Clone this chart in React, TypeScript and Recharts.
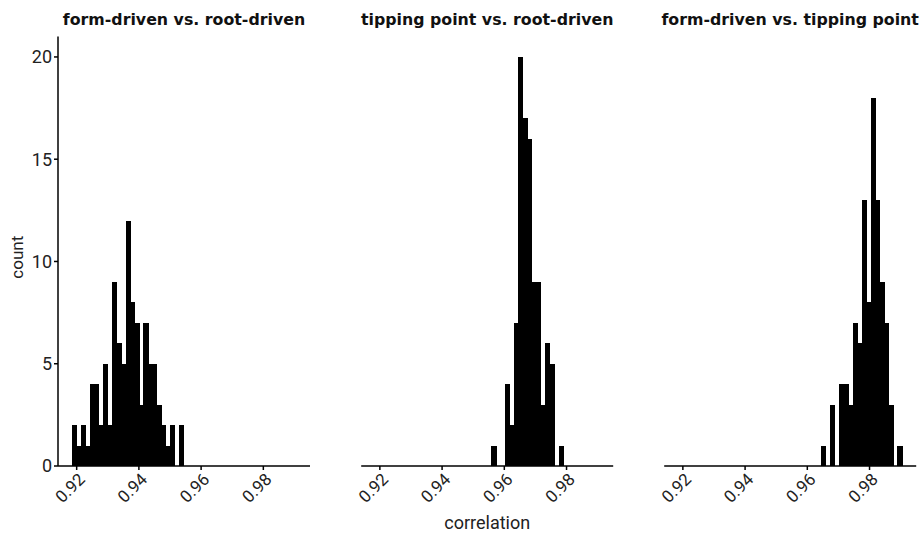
import React from 'react';
import { BarChart, Bar, XAxis, YAxis } from 'recharts';

// histogram bins shared by all three facets
const BIN_START = 0.91859;
const BIN_WIDTH = 0.00144;

// counts per facet, with the index of the first bin they start at
const formRootStart = 0;
const formRootCounts = [2, 1, 2, 1, 4, 4, 2, 5, 2, 9, 6, 5, 12, 8, 7, 3, 7, 5, 5, 3, 2, 1, 2, 0, 2];
const tippingRootStart = 26;
const tippingRootCounts = [1, 0, 0, 4, 2, 7, 20, 17, 16, 9, 9, 3, 6, 5, 0, 1];
const formTippingStart = 32;
const formTippingCounts = [1, 0, 3, 0, 4, 4, 3, 7, 6, 13, 8, 18, 13, 9, 7, 3, 0, 1];

const facetTitles = ['form-driven vs. root-driven', 'tipping point vs. root-driven', 'form-driven vs. tipping point'];
const xTicks = [0.92, 0.94, 0.96, 0.98];
const yTicks = [0, 5, 10, 15, 20];
const X_DOMAIN: [number, number] = [0.914, 0.995];
const Y_DOMAIN: [number, number] = [0, 21];

const FONT = "Roboto, 'DejaVu Sans', sans-serif";
const TITLE_FONT = "'DejaVu Sans', Roboto, sans-serif";
const PLOT_W = 252;
const PX_PER_UNIT = PLOT_W / (X_DOMAIN[1] - X_DOMAIN[0]);
const BAR_PX = BIN_WIDTH * PX_PER_UNIT;

const toBins = (start: number, counts: number[]) =>
  counts.map((count, i) => ({ x: BIN_START + (start + i + 0.5) * BIN_WIDTH, count }));

const XTick = ({ x, y, payload }: any) => (
  <g transform={`translate(${x},${y - 1})`}>
    <text transform="rotate(-45)" textAnchor="end" dy="0.78em" fontSize={17} fill="#222" fontFamily={FONT}>
      {payload.value.toFixed(2)}
    </text>
  </g>
);

// histogram bin: centred on the bar slot, slightly widened so neighbours close up
const BinShape = ({ x, y, width, height }: any) => {
  if (!height || height <= 0) return null;
  const cx = x + width / 2;
  return (
    <rect
      x={cx - BAR_PX / 2 - 0.3}
      y={y}
      width={BAR_PX + 0.6}
      height={height}
      fill="#000"
      shapeRendering="crispEdges"
    />
  );
};

const CountLabel = ({ viewBox }: any) => {
  const cx = viewBox.x + 17;
  const cy = viewBox.y + viewBox.height / 2 + 6;
  return (
    <text x={cx} y={cy} transform={`rotate(-90, ${cx}, ${cy})`} textAnchor="middle" dominantBaseline="central" fontSize={17} fill="#222" fontFamily={FONT}>
      count
    </text>
  );
};

const panels = [
  { counts: formRootCounts, start: formRootStart, left: 0, width: 330, mLeft: 0, showY: true },
  { counts: tippingRootCounts, start: tippingRootStart, left: 311, width: 310, mLeft: 50.2, showY: false },
  { counts: formTippingCounts, start: formTippingStart, left: 621, width: 300, mLeft: 43.2, showY: false },
];

const App = () => {
  return (
    <div style={{ position: 'fixed', left: 0, top: 0, width: 921, height: 536, background: '#fff', overflow: 'hidden', fontFamily: FONT }}>
      {panels.map((p, idx) => {
        const plotLeft = p.left + p.mLeft + (p.showY ? 58 : 0);
        return (
          <React.Fragment key={idx}>
            <div style={{ position: 'absolute', left: p.left, top: 0 }}>
              <BarChart
                width={p.width}
                height={536}
                data={toBins(p.start, p.counts)}
                margin={{ top: 36.5, right: p.width - p.mLeft - (p.showY ? 58 : 0) - PLOT_W, bottom: 0, left: p.mLeft }}
              >
                <XAxis
                  type="number"
                  dataKey="x"
                  domain={X_DOMAIN}
                  ticks={xTicks}
                  allowDataOverflow
                  height={70}
                  tickSize={4}
                  axisLine={{ stroke: '#000', strokeWidth: 1.5 }}
                  tickLine={{ stroke: '#000', strokeWidth: 1.5 }}
                  tick={<XTick />}
                  label={idx === 1 ? { value: 'correlation', position: 'insideBottom', offset: 7, style: { fontSize: 18, fill: '#222', fontFamily: FONT } } : undefined}
                />
                <YAxis
                  hide={!p.showY}
                  domain={Y_DOMAIN}
                  ticks={yTicks}
                  width={58}
                  tickSize={4}
                  axisLine={{ stroke: '#000', strokeWidth: 1.5 }}
                  tickLine={{ stroke: '#000', strokeWidth: 1.5 }}
                  tick={{ fontSize: 18, fill: '#222', fontFamily: FONT }}
                  label={p.showY ? <CountLabel /> : undefined}
                />
                <Bar dataKey="count" fill="#000" barSize={BAR_PX} shape={<BinShape />} isAnimationActive={false} />
              </BarChart>
            </div>
            <div
              style={{
                position: 'absolute',
                left: plotLeft + PLOT_W / 2 - 200,
                width: 400,
                top: 10,
                textAlign: 'center',
                whiteSpace: 'nowrap',
                fontFamily: TITLE_FONT,
                fontWeight: 700,
                fontSize: 15.8,
                lineHeight: '20px',
                color: '#111',
              }}
            >
              {facetTitles[idx]}
            </div>
          </React.Fragment>
        );
      })}
    </div>
  );
};

export default App;
